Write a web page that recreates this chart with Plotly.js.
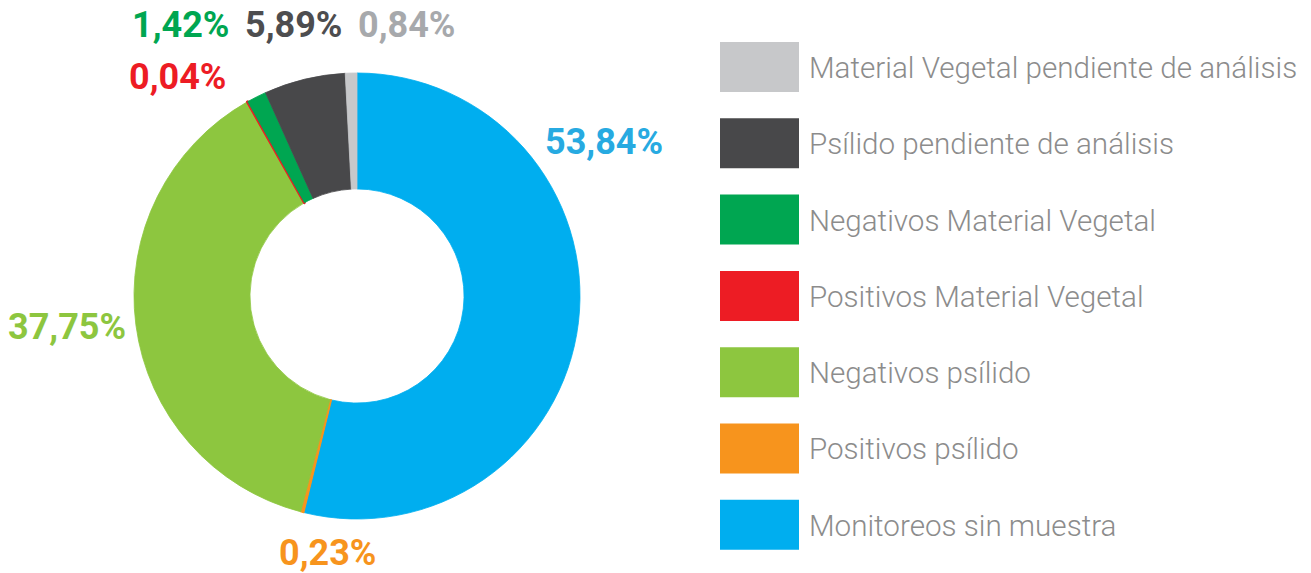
<!DOCTYPE html>
<html>
<head>
<meta charset="utf-8">
<script src="https://cdn.plot.ly/plotly-3.0.1.min.js"></script>
<style>html,body{margin:0;padding:0;background:#fff;}#chart{width:1311px;height:573px;}</style>
</head>
<body>
<div id="chart"></div>
<script>
// Data
var categories = ["Monitoreos sin muestra", "Positivos psílido", "Negativos psílido", "Positivos Material Vegetal", "Negativos Material Vegetal", "Psílido pendiente de análisis", "Material Vegetal pendiente de análisis"];
var values = [53.84, 0.23, 37.75, 0.04, 1.42, 5.89, 0.84];
var sliceColors = ["#00AEEF", "#F7941D", "#8DC63F", "#ED1C24", "#00A651", "#48484A", "#C7C8CA"];
var labelColors = ["#27AAE1", "#F7941D", "#8DC63F", "#ED1C24", "#00A651", "#4D4D4F", "#A7A9AC"];

var W = 1311, H = 573;
function px(x){ return x / W; }
function py(y){ return 1 - y / H; }

// label centre positions (pixel layout)
var labelPos = [[604,142],[327,553],[67,327],[177,77],[180,25],[293,25],[406,25]];

var cx = 357, cy = 296, R = 223;

var trace = {
  type: 'pie',
  values: values,
  labels: categories,
  sort: false,
  direction: 'clockwise',
  rotation: 0,
  hole: 0.48,
  textinfo: 'none',
  hoverinfo: 'label+percent',
  showlegend: false,
  marker: { colors: sliceColors, line: { color: sliceColors, width: [0.8, 1.2, 0.8, 2.6, 0.8, 0.8, 0.8] } },
  domain: { x: [px(cx - R), px(cx + R)], y: [py(cy + R), py(cy - R)] }
};

var annotations = [];
var shapes = [];
for (var i = 0; i < values.length; i++) {
  annotations.push({
    xref: 'paper', yref: 'paper',
    x: px(labelPos[i][0]), y: py(labelPos[i][1]),
    xanchor: 'center', yanchor: 'middle',
    text: '<b>' + values[i].toFixed(2).replace('.', ',') + '%</b>',
    showarrow: false,
    font: { family: 'Roboto, sans-serif', size: 36, color: labelColors[i] }
  });
}
// legend (top to bottom = reverse order)
var n = categories.length;
for (var k = 0; k < n; k++) {
  var idx = n - 1 - k;
  var yc = 67 + k * 76.3;
  shapes.push({
    type: 'rect', xref: 'paper', yref: 'paper',
    x0: px(720), x1: px(799), y0: py(yc + 25), y1: py(yc - 25),
    fillcolor: sliceColors[idx], line: { width: 0 }
  });
  annotations.push({
    xref: 'paper', yref: 'paper',
    x: px(807), y: py(yc + 1),
    xanchor: 'left', yanchor: 'middle',
    text: categories[idx],
    showarrow: false,
    font: { family: 'Roboto, sans-serif', size: 29.6, weight: 300, color: '#8C8C8C' }
  });
}

var layout = {
  width: W, height: H,
  margin: { l: 0, r: 0, t: 0, b: 0 },
  paper_bgcolor: '#ffffff',
  plot_bgcolor: '#ffffff',
  showlegend: false,
  annotations: annotations,
  shapes: shapes
};

Plotly.newPlot('chart', [trace], layout, { displayModeBar: false, staticPlot: true });
</script>
</body>
</html>
